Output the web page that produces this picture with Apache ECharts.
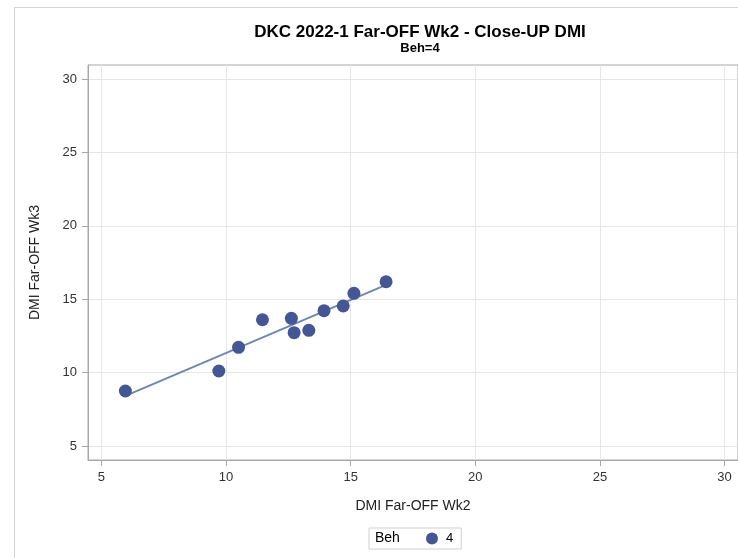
<!DOCTYPE html>
<html>
<head>
<meta charset="utf-8">
<script src="https://cdn.jsdelivr.net/npm/echarts@6/dist/echarts.min.js"></script>
<style>
html,body{margin:0;padding:0;background:#fff;}
#c{width:738px;height:558px;}
</style>
</head>
<body>
<div id="c"></div>
<script>
// Data
var wk2 = [5.96, 9.71, 10.50, 11.46, 12.62, 12.73, 13.32, 13.93, 14.70, 15.13, 16.42];
var wk3 = [8.75, 10.11, 11.72, 13.60, 13.70, 12.72, 12.88, 14.22, 14.54, 15.40, 16.19];
var xTicks = [5, 10, 15, 20, 25, 30];
var yTicks = [5, 10, 15, 20, 25, 30];
var groupName = '4';

var points = wk2.map(function (x, i) { return [x, wk3[i]]; });

// least-squares fit line over the data range
var n = wk2.length, mx = 0, my = 0;
for (var i = 0; i < n; i++) { mx += wk2[i]; my += wk3[i]; }
mx /= n; my /= n;
var sxy = 0, sxx = 0;
for (var i = 0; i < n; i++) { sxy += (wk2[i] - mx) * (wk3[i] - my); sxx += (wk2[i] - mx) * (wk2[i] - mx); }
var slope = sxy / sxx, icpt = my - slope * mx;
var xmin = Math.min.apply(null, wk2), xmax = Math.max.apply(null, wk2);
var fit = [[xmin, icpt + slope * xmin], [xmax, icpt + slope * xmax]];

var font = 'Liberation Sans, Arial, sans-serif';
var chart = echarts.init(document.getElementById('c'), null, {renderer: 'canvas'});
chart.setOption({
  animation: false,
  backgroundColor: '#fff',
  textStyle: {fontFamily: font},
  title: {
    text: 'DKC 2022-1 Far-OFF Wk2 - Close-UP DMI',
    subtext: 'Beh=4',
    left: 415, top: 19, textAlign: 'center',
    itemGap: 1,
    textStyle: {fontFamily: font, fontSize: 17, fontWeight: 'bold', color: '#000'},
    subtextStyle: {fontFamily: font, fontSize: 13, fontWeight: 'bold', color: '#000'}
  },
  graphic: [
    {type: 'rect', silent: true, z: -10, shape: {x: 14.5, y: 7.5, width: 800, height: 800},
     style: {fill: 'none', stroke: '#d4d4d4', lineWidth: 1}},
    {type: 'text', left: 375, top: 531, z: 10,
     style: {text: 'Beh', font: '14px ' + font, fill: '#000'}}
  ],
  legend: {
    left: 369, top: 528,
    data: [groupName],
    icon: 'circle',
    itemWidth: 12, itemHeight: 12, itemGap: 5,
    padding: [4, 8, 4, 57],
    borderColor: '#d0d0d0', borderWidth: 1,
    textStyle: {fontFamily: font, fontSize: 13, color: '#000', padding: [0, 0, 0, 3]}
  },
  grid: {
    left: 88, top: 65, width: 652, height: 395,
    show: true, borderColor: '#a8a8a8', borderWidth: 1, backgroundColor: 'transparent'
  },
  xAxis: {
    type: 'value', min: 4.46, max: 30.54,
    name: 'DMI Far-OFF Wk2', nameLocation: 'middle', nameGap: 39,
    nameTextStyle: {fontFamily: font, fontSize: 14, color: '#222'},
    axisLine: {show: true, lineStyle: {color: '#a8a8a8'}},
    axisTick: {show: true, length: 6, customValues: xTicks, lineStyle: {color: '#a8a8a8'}},
    axisLabel: {customValues: xTicks, fontFamily: font, fontSize: 13, color: '#333', margin: 11},
    splitLine: {show: true, lineStyle: {color: '#e6e6e6'}}
  },
  yAxis: {
    type: 'value', min: 4.05, max: 30.95,
    name: 'DMI Far-OFF Wk3', nameLocation: 'middle', nameGap: 46,
    nameTextStyle: {fontFamily: font, fontSize: 14, color: '#222'},
    axisLine: {show: true, lineStyle: {color: '#a8a8a8'}},
    axisTick: {show: true, length: 6, customValues: yTicks, lineStyle: {color: '#a8a8a8'}},
    axisLabel: {customValues: yTicks, fontFamily: font, fontSize: 13, color: '#333', margin: 11},
    splitLine: {show: true, lineStyle: {color: '#e6e6e6'}}
  },
  series: [
    {
      name: 'fit', type: 'line', data: fit, symbol: 'none', z: 2,
      lineStyle: {color: '#6f88ad', width: 2}, silent: true
    },
    {
      name: groupName, type: 'scatter', data: points, symbol: 'circle', symbolSize: 13, z: 3,
      itemStyle: {color: '#445694', opacity: 1}
    }
  ]
});
</script>
</body>
</html>
